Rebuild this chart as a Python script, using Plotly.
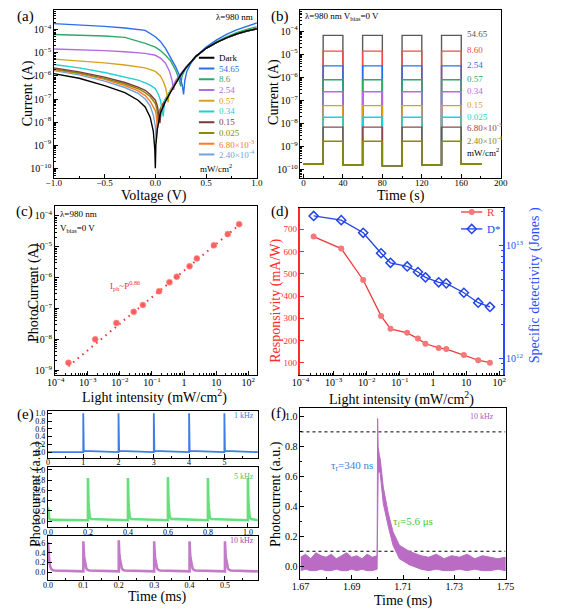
import plotly.graph_objects as go

# The page body has an 8px margin, so the figure is offset by 8px; all positions
# below are given in window (screen) pixels and converted.
SW, SH = 561, 612
OFF = 8
W, H = SW - OFF, SH - OFF
FONT = "Liberation Serif"

# ======================= DATA =======================
# (a) I-V curves (V in volts, I in amperes)
a_fwd_V = [0.4, 0.5, 0.6, 0.7, 0.8, 0.9, 1.0]
a_fwd_I = [7.1e-6, 1.58e-5, 2.8e-5, 4.5e-5, 6.6e-5, 8.9e-5, 1.12e-4]

a_dark_V = [-1, -0.75, -0.5, -0.3, -0.17, -0.1, -0.05, -0.02, -0.005, 0, 0.005, 0.02, 0.05, 0.1, 0.15, 0.2, 0.25, 0.3, 0.35]
a_dark_I = [1.26e-6, 7.94e-7, 3.8e-7, 1.9e-7, 8.9e-8, 4.5e-8, 1.6e-8, 4.0e-9, 6.3e-10, 1.0e-10, 1.0e-9, 5.0e-9, 2.5e-8, 7.9e-8, 2.0e-7, 5.0e-7, 1.12e-6, 2.24e-6, 4.0e-6]

a_5465_V = [-1, -0.75, -0.5, -0.3, -0.2, -0.1, 0, 0.05, 0.1, 0.15, 0.2, 0.24, 0.265, 0.278, 0.29, 0.31, 0.35, 0.4, 0.5, 0.6, 0.7, 0.8, 0.9, 1.0]
a_5465_I = [1.86e-4, 1.66e-4, 1.41e-4, 1.2e-4, 1.1e-4, 9.5e-5, 5.0e-5, 3.16e-5, 1.58e-5, 6.3e-6, 2.5e-6, 1.0e-6, 4.0e-7, 1.58e-7, 6.3e-7, 1.58e-6, 3.55e-6, 7.1e-6, 1.78e-5, 3.55e-5, 6.3e-5, 1.0e-4, 1.41e-4, 2.0e-4]

a_86_V = [-1, -0.75, -0.5, -0.3, -0.1, 0, 0.05, 0.1, 0.15, 0.2, 0.23, 0.25, 0.262, 0.28, 0.3, 0.35, 0.4, 0.5, 0.6, 0.7, 0.8, 0.9, 1.0]
a_86_I = [6.3e-5, 5.9e-5, 5.4e-5, 4.7e-5, 2.6e-5, 1.78e-5, 1.26e-5, 7.9e-6, 4.5e-6, 1.78e-6, 7.9e-7, 3.55e-7, 1.0e-6, 1.41e-6, 2.1e-6, 4.0e-6, 7.1e-6, 1.6e-5, 3.0e-5, 4.9e-5, 7.6e-5, 1.05e-4, 1.35e-4]

a_254_V = [-1, -0.75, -0.5, -0.3, -0.1, 0, 0.05, 0.1, 0.14, 0.165, 0.18, 0.19, 0.2, 0.25, 0.3, 0.35]
a_254_I = [1.48e-5, 1.38e-5, 1.26e-5, 1.12e-5, 9.5e-6, 7.9e-6, 6.0e-6, 3.55e-6, 1.58e-6, 6.3e-7, 2.5e-7, 5.0e-7, 6.3e-7, 1.26e-6, 2.4e-6, 4.0e-6]

a_057_V = [-1, -0.75, -0.5, -0.3, -0.1, 0, 0.05, 0.08, 0.1, 0.115, 0.125, 0.135, 0.15, 0.2, 0.25, 0.3, 0.35]
a_057_I = [5.4e-6, 4.5e-6, 3.7e-6, 3.0e-6, 2.24e-6, 1.58e-6, 1.0e-6, 5.6e-7, 3.16e-7, 1.58e-7, 7.1e-8, 1.58e-7, 2.5e-7, 6.0e-7, 1.2e-6, 2.3e-6, 4.0e-6]

a_034_V = [-1, -0.75, -0.5, -0.3, -0.17, -0.1, -0.05, 0, 0.03, 0.05, 0.065, 0.078, 0.09, 0.12, 0.15, 0.2, 0.25, 0.3, 0.35]
a_034_I = [3.16e-6, 2.24e-6, 1.41e-6, 9.3e-7, 6.6e-7, 5.0e-7, 4.0e-7, 2.8e-7, 1.58e-7, 8.9e-8, 4.5e-8, 1.78e-8, 7.9e-8, 1.41e-7, 2.5e-7, 5.6e-7, 1.17e-6, 2.24e-6, 4.0e-6]

a_015_V = [-1, -0.75, -0.5, -0.3, -0.17, -0.1, -0.05, 0, 0.02, 0.035, 0.045, 0.06, 0.1, 0.15, 0.2, 0.25, 0.3, 0.35]
a_015_I = [2.24e-6, 1.5e-6, 8.9e-7, 5.2e-7, 3.3e-7, 2.4e-7, 1.58e-7, 8.9e-8, 5.0e-8, 2.24e-8, 8.9e-9, 4.0e-8, 1.0e-7, 2.4e-7, 5.4e-7, 1.12e-6, 2.24e-6, 4.0e-6]

a_0025_V = [-1, -0.75, -0.5, -0.3, -0.17, -0.1, -0.05, 0, 0.015, 0.03, 0.04, 0.06, 0.1, 0.15, 0.2, 0.25, 0.3, 0.35]
a_0025_I = [2.0e-6, 1.35e-6, 7.9e-7, 4.5e-7, 2.8e-7, 1.9e-7, 1.26e-7, 6.3e-8, 3.55e-8, 1.12e-8, 3.16e-8, 5.0e-8, 1.0e-7, 2.24e-7, 5.2e-7, 1.12e-6, 2.24e-6, 4.0e-6]

a_68e3_V = [-1, -0.75, -0.5, -0.3, -0.17, -0.1, -0.05, 0, 0.01, 0.02, 0.03, 0.05, 0.1, 0.15, 0.2, 0.25, 0.3, 0.35]
a_68e3_I = [1.9e-6, 1.26e-6, 7.1e-7, 3.8e-7, 2.24e-7, 1.41e-7, 7.9e-8, 3.16e-8, 1.78e-8, 5.0e-9, 1.78e-8, 3.55e-8, 8.9e-8, 2.1e-7, 5.0e-7, 1.12e-6, 2.24e-6, 4.0e-6]

a_24e4_V = [-1, -0.75, -0.5, -0.3, -0.17, -0.1, -0.05, -0.02, 0, 0.008, 0.015, 0.03, 0.06, 0.1, 0.15, 0.2, 0.25, 0.3, 0.35]
a_24e4_I = [1.7e-6, 1.12e-6, 6.0e-7, 3.16e-7, 1.78e-7, 1.0e-7, 5.0e-8, 2.0e-8, 6.3e-9, 1.26e-9, 6.3e-9, 1.78e-8, 4.5e-8, 8.9e-8, 2.0e-7, 5.0e-7, 1.12e-6, 2.24e-6, 4.0e-6]

a_labels = ["Dark", "54.65", "8.6", "2.54", "0.57", "0.34", "0.15", "0.025",
            "6.80×10<sup>-3</sup>", "2.40×10<sup>-4</sup>"]
a_colors = ["#000000", "#2a6fe6", "#2fa868", "#b36be3", "#d8a21a", "#1fd0d4",
            "#7a3a3a", "#8a8a05", "#ff7a22", "#6fa3dc"]

# (b) on/off switching
b_labels = ["54.65", "8.60", "2.54", "0.57", "0.34", "0.15", "0.025",
            "6.80×10<sup>-3</sup>", "2.40×10<sup>-4</sup>"]
b_colors = ["#5a5a5a", "#f24b4b", "#2a6fe6", "#2fa868", "#b36be3", "#d8a21a",
            "#1fd0d4", "#8a4a4a", "#8a8a05"]
b_on_level = [6.5e-5, 1.35e-5, 3.1e-6, 7.8e-7, 2.35e-7, 5.9e-8, 1.86e-8, 6.9e-9, 1.7e-9]
b_off_level = [1.7e-10, 1.6e-10, 1.45e-10, 1.6e-10, 1.7e-10]
b_on_times = [20, 60, 100, 140]
b_off_times = [40, 80, 120, 160]
b_t_end = 181

# (c) photocurrent vs intensity
c_P = [2.5e-4, 1.7e-3, 7.8e-3, 0.027, 0.052, 0.166, 0.35, 0.59, 1.48, 2.5, 8.5, 23, 52]
c_I = [1.74e-9, 1.0e-8, 3.4e-8, 7.8e-8, 1.29e-7, 3.6e-7, 7.1e-7, 1.07e-6, 2.34e-6, 4.2e-6, 1.12e-5, 2.57e-5, 5.4e-5]
c_fit_P = [2.5e-4, 55]
c_fit_I = [1.35e-9, 5.3e-5]

# (d) responsivity / detectivity
d_R = [667, 613, 472, 311, 253, 235, 209, 186, 167, 162, 135, 112, 101]
d_D = [1.82e13, 1.67e13, 1.29e13, 8.5e12, 7.0e12, 6.5e12, 5.8e12, 5.2e12, 4.7e12, 4.6e12, 3.8e12, 3.1e12, 2.85e12]

# (e) transient pulses at three frequencies
pulse_dt = [0, 0.0011, 0.0023, 0.0042, 0.0061, 0.0086, 0.0124, 0.017]
pulse_frac = [1.0, 0.67, 0.47, 0.31, 0.18, 0.09, 0.05, 0.03]
e1_peaks = [1, 2, 3, 4, 5]
e1_heights = [1.0, 1.0, 1.0, 1.0, 1.0]
e1_base = 0.0
e2_peaks = [0.0, 0.2, 0.4, 0.6, 0.8, 1.0]
e2_heights = [0.25, 0.82, 0.82, 0.84, 0.82, 0.82]
e2_base = 0.02
e3_peaks = [0.0, 0.1, 0.2, 0.3, 0.4, 0.5]
e3_heights = [0.6, 0.62, 0.64, 0.62, 0.62, 0.62]
e3_base = 0.02

# (f) single pulse envelope (upper / lower edge of the noisy trace)
f_t = [1.670, 1.672, 1.674, 1.676, 1.678, 1.680, 1.682, 1.684, 1.686, 1.688, 1.690, 1.692, 1.694, 1.696, 1.698, 1.6999,
       1.7001, 1.7003, 1.7008, 1.7011, 1.7023, 1.7042, 1.7061, 1.7086, 1.7124, 1.717,
       1.720, 1.723, 1.726, 1.729, 1.732, 1.735, 1.738, 1.741, 1.744, 1.747, 1.750]
f_hi = [0.06, 0.08, 0.05, 0.09, 0.07, 0.06, 0.08, 0.05, 0.07, 0.09, 0.06, 0.07, 0.05, 0.08, 0.06, 0.07,
        0.99, 0.80, 0.74, 0.72, 0.53, 0.36, 0.23, 0.14, 0.10, 0.07,
        0.06, 0.08, 0.05, 0.07, 0.06, 0.08, 0.05, 0.07, 0.06, 0.05, 0.06]
f_lo = [-0.03, -0.02, -0.03, -0.03, -0.02, -0.03, -0.03, -0.02, -0.03, -0.03, -0.02, -0.03, -0.02, -0.03, -0.03, -0.02,
        0.00, 0.62, 0.64, 0.62, 0.42, 0.27, 0.14, 0.05, 0.01, -0.02,
        -0.03, -0.02, -0.03, -0.03, -0.02, -0.03, -0.02, -0.03, -0.03, -0.02, -0.03]
f_thresh = [0.9, 0.1]

# ======================= HELPERS =======================
def px(x):
    return (x - OFF) / W


def py(y):
    return 1 - (y - OFF) / H


fig = go.Figure()


def base_axis(**kw):
    d = dict(showline=True, linecolor="black", linewidth=1, mirror=True,
             ticks="inside", ticklen=4, tickwidth=1, tickcolor="black",
             showgrid=False, zeroline=False,
             tickfont=dict(family=FONT, size=9, color="black"))
    d.update(kw)
    return d


# ======================= (a) =======================
a_V = [a_dark_V, a_5465_V, a_86_V, a_254_V, a_057_V, a_034_V, a_015_V, a_0025_V, a_68e3_V, a_24e4_V]
a_I = [a_dark_I, a_5465_I, a_86_I, a_254_I, a_057_I, a_034_I, a_015_I, a_0025_I, a_68e3_I, a_24e4_I]
order = [9, 8, 7, 6, 5, 4, 3, 2, 1, 0]
for k in order:
    V = list(a_V[k])
    I = list(a_I[k])
    if V[-1] < 0.4:
        V = V + a_fwd_V
        I = I + a_fwd_I
    fig.add_trace(go.Scatter(x=V, y=I, mode="lines", line=dict(color=a_colors[k], width=1.4),
                             xaxis="x", yaxis="y", showlegend=False))

# ======================= (b) =======================
for k in range(len(b_on_level)):
    t = [0]
    v = [b_off_level[0]]
    for j, (ton, toff) in enumerate(zip(b_on_times, b_off_times)):
        t += [ton, ton, toff, toff]
        v += [b_off_level[j], b_on_level[k], b_on_level[k], b_off_level[j + 1]]
    t.append(b_t_end)
    v.append(b_off_level[-1])
    fig.add_trace(go.Scatter(x=t, y=v, mode="lines", line=dict(color=b_colors[k], width=1.4),
                             xaxis="x2", yaxis="y2", showlegend=False))

# ======================= (c) =======================
fig.add_trace(go.Scatter(x=c_fit_P, y=c_fit_I, mode="lines",
                         line=dict(color="#f03030", width=2, dash="1.5px,4.5px"),
                         xaxis="x3", yaxis="y3", showlegend=False))
fig.add_trace(go.Scatter(x=c_P, y=c_I, mode="markers",
                         marker=dict(color="rgba(255,80,80,0.9)", size=6,
                                     line=dict(color="rgba(255,150,150,0.6)", width=1)),
                         xaxis="x3", yaxis="y3", showlegend=False))

# ======================= (d) =======================
fig.add_trace(go.Scatter(x=c_P, y=d_R, mode="lines+markers",
                         line=dict(color="#f03a3a", width=1.3),
                         marker=dict(symbol="circle", size=6, color="#f07a7a"),
                         xaxis="x4", yaxis="y4", showlegend=False))
fig.add_trace(go.Scatter(x=c_P, y=d_D, mode="lines+markers",
                         line=dict(color="#2244e8", width=1.3),
                         marker=dict(symbol="diamond-open", size=7, color="#2244e8", line=dict(width=1.5)),
                         xaxis="x4", yaxis="y5", showlegend=False))

# ======================= (e) =======================
def pulse_train(t_end, base, peaks, heights):
    t, v = [], []
    for p, h in zip(peaks, heights):
        if p > 0:
            if not t:
                t.append(0.0)
                v.append(base)
            t.append(p)
            v.append(base)
        for dt, fr in zip(pulse_dt, pulse_frac):
            t.append(p + dt)
            v.append(base + h * fr)
    t.append(t_end)
    v.append(base)
    return t, v


t1, v1 = pulse_train(5.95, e1_base, e1_peaks, e1_heights)
fig.add_trace(go.Scatter(x=t1, y=v1, mode="lines", line=dict(color="#3d7fe6", width=1.8),
                         xaxis="x5", yaxis="y6", showlegend=False))
t2, v2 = pulse_train(1.05, e2_base, e2_peaks, e2_heights)
fig.add_trace(go.Scatter(x=t2, y=v2, mode="lines", line=dict(color="#66e07e", width=2.6),
                         xaxis="x6", yaxis="y7", showlegend=False))
t3, v3 = pulse_train(0.593, e3_base, e3_peaks, e3_heights)
fig.add_trace(go.Scatter(x=t3, y=v3, mode="lines", line=dict(color="#c37ac9", width=2.6),
                         xaxis="x7", yaxis="y8", showlegend=False))

# ======================= (f) =======================
for th in f_thresh:
    fig.add_trace(go.Scatter(x=[1.67, 1.75], y=[th, th], mode="lines",
                             line=dict(color="black", width=1, dash="dot"),
                             xaxis="x8", yaxis="y9", showlegend=False))
fig.add_trace(go.Scatter(x=f_t + f_t[::-1], y=f_hi + f_lo[::-1], mode="lines", fill="toself",
                         fillcolor="#ba6cc4", line=dict(color="#ba6cc4", width=1),
                         xaxis="x8", yaxis="y9", showlegend=False))

# ======================= legend keys (screen-pixel overlay axis) =======================
for i, c in enumerate(a_colors):
    yy = 56 + 10.8 * i
    fig.add_trace(go.Scatter(x=[196, 212], y=[yy, yy], mode="lines", line=dict(color=c, width=2),
                             xaxis="x9", yaxis="y10", showlegend=False))
fig.add_trace(go.Scatter(x=[467, 489], y=[211, 211], mode="lines",
                         line=dict(color="#f03a3a", width=1.3),
                         xaxis="x9", yaxis="y10", showlegend=False))
fig.add_trace(go.Scatter(x=[478], y=[211], mode="markers",
                         marker=dict(symbol="circle", size=6, color="#f07a7a"),
                         xaxis="x9", yaxis="y10", showlegend=False))
fig.add_trace(go.Scatter(x=[467, 489], y=[228, 228], mode="lines",
                         line=dict(color="#2244e8", width=1.3),
                         xaxis="x9", yaxis="y10", showlegend=False))
fig.add_trace(go.Scatter(x=[478], y=[228], mode="markers",
                         marker=dict(symbol="diamond-open", size=7, color="#2244e8", line=dict(width=1.5)),
                         xaxis="x9", yaxis="y10", showlegend=False))

# ======================= annotations =======================
ann = []


def T(x, y, text, size=9, color="black", xanchor="left", angle=0):
    ann.append(dict(x=x, y=y, xref="x9", yref="y10", text=text, showarrow=False,
                    xanchor=xanchor, yanchor="middle", textangle=angle,
                    font=dict(family=FONT, size=size, color=color)))


# panel letters
for lab, (x, y) in zip(["(a)", "(b)", "(c)", "(d)", "(e)", "(f)"],
                       [(17, 15), (280, 15), (16, 210), (280, 210), (17, 415), (278, 414)]):
    T(x, y, lab, size=15, xanchor="center")

# (a)
T(150, 195, "Voltage (V)", size=14, xanchor="center")
T(19, 92, "Current (A)", size=14, xanchor="center", angle=-90)
T(254, 15, "λ=980 nm", size=9, xanchor="right")
for i, (lab, c) in enumerate(zip(a_labels, a_colors)):
    T(215, 56 + 10.8 * i, lab, size=9, color=c)
T(195, 167, "mW/cm<sup>2</sup>", size=9)

# (b)
T(405, 195, "Time (s)", size=14, xanchor="center")
T(273, 90, "Current (A)", size=14, xanchor="center", angle=-90)
T(304, 15, "λ=980 nm V<sub>bias</sub>=0 V", size=9)
b_lab_y = [32.3, 48.3, 63.3, 77.7, 89.7, 103, 115.3, 126, 139]
for lab, c, yy in zip(b_labels, b_colors, b_lab_y):
    T(471, yy, lab, size=9, color=c)
T(471, 151, "mW/cm<sup>2</sup>", size=9)

# (c)
T(150, 396, "Light intensity (mW/cm<sup>2</sup>)", size=14, xanchor="center")
T(25, 292, "PhotoCurrent (A)", size=14, xanchor="center", angle=-90)
T(50, 213, "λ=980 nm", size=9)
T(50, 228, "V<sub>bias</sub>=0 V", size=9)
T(102, 285, "I<sub>ph</sub>~P<sup>0.86</sup>", size=9, color="#f03030")

# (d)
T(405, 398, "Light intensity (mW/cm<sup>2</sup>)", size=14, xanchor="center")
T(275, 300, "Responsivity (mA/W)", size=14, xanchor="center", angle=-90, color="#ff2a2a")
T(543, 285, "Specific detectivity (Jones )", size=14, xanchor="center", angle=-90, color="#2a4cff")
T(492, 211, "R", size=11, color="#f03a3a")
T(492, 228, "D*", size=11, color="#2244e8")

# (e)
T(153, 598, "Time (ms)", size=14, xanchor="center")
T(27, 494, "Photocurrent (a.u.)", size=14, xanchor="center", angle=-90)
T(255, 416, "1 kHz", size=8, color="#3d7fe6", xanchor="right")
T(255, 477, "5 kHz", size=8, color="#4cc864", xanchor="right")
T(255, 541, "10 kHz", size=8, color="#a04aa8", xanchor="right")

# (f)
T(407, 602, "Time (ms)", size=14, xanchor="center")
T(275, 494, "Photocurrent (a.u.)", size=14, xanchor="center", angle=-90)
T(378, 466, "τ<sub>r</sub>=340 ns", size=11, color="#3a7fe0", xanchor="right")
T(395, 523, "τ<sub>f</sub>=5.6 μs", size=11, color="#3ec83e")
T(503, 417, "10 kHz", size=8, color="#b05ab8", xanchor="right")

# ======================= layout =======================
red = "#ff2a2a"
blue = "#2a4cff"
LOGF = dict(family=FONT, size=8, color="black")
layout = dict(
    width=W, height=H, margin=dict(l=0, r=0, t=0, b=0),
    font=dict(family=FONT, size=9, color="black"),
    plot_bgcolor="rgba(0,0,0,0)", paper_bgcolor="white",
    annotations=ann,
    # (a)
    xaxis=base_axis(domain=[px(46), px(256)], range=[-1, 1], dtick=0.5, tickformat=".1f", anchor="y",
                    ticklabelstandoff=-4,
                    minor=dict(ticks="inside", ticklen=2, dtick=0.25, tickcolor="black")),
    yaxis=base_axis(domain=[py(177), py(8)], type="log", range=[-10.43, -3.14], dtick=1,
                    exponentformat="power", anchor="x", tickfont=LOGF,
                    minor=dict(ticks="inside", ticklen=2, tickcolor="black")),
    # (b)
    xaxis2=base_axis(domain=[px(301), px(508)], range=[-3, 200], dtick=40, anchor="y2",
                     ticklabelstandoff=-4,
                     minor=dict(ticks="inside", ticklen=2, dtick=20, tickcolor="black")),
    yaxis2=base_axis(domain=[py(177), py(8)], type="log", range=[-10.37, -3.09], dtick=1,
                     exponentformat="power", anchor="x2", tickfont=LOGF,
                     minor=dict(ticks="inside", ticklen=2, tickcolor="black")),
    # (c)
    xaxis3=base_axis(domain=[px(47), px(256)], type="log", range=[-4.03, 2.27], dtick=1,
                     exponentformat="power", anchor="y3", tickfont=LOGF, ticklabelstandoff=-2,
                     minor=dict(ticks="inside", ticklen=2, tickcolor="black")),
    yaxis3=base_axis(domain=[py(375), py(205)], type="log", range=[-9.16, -3.68], dtick=1,
                     exponentformat="power", anchor="x3", tickfont=LOGF,
                     minor=dict(ticks="inside", ticklen=2, tickcolor="black")),
    # (d)
    xaxis4=base_axis(domain=[px(301), px(510)], type="log", range=[-4.0, 2.1], dtick=1,
                     exponentformat="power", anchor="y4", tickfont=LOGF, ticklabelstandoff=-2,
                     minor=dict(ticks="inside", ticklen=2, tickcolor="black")),
    yaxis4=base_axis(domain=[py(375), py(207)], range=[45, 795], dtick=100, tick0=100, anchor="x4",
                     mirror=False, linecolor=red, tickcolor=red, linewidth=1.5,
                     tickfont=dict(family=FONT, size=9, color=red)),
    yaxis5=base_axis(domain=[py(375), py(207)], type="log", range=[11.85, 13.33], dtick=1,
                     exponentformat="power", anchor="x4", overlaying="y4", side="right",
                     mirror=False, linecolor=blue, tickcolor=blue, linewidth=1.5,
                     tickfont=dict(family=FONT, size=8, color=blue),
                     minor=dict(ticks="inside", ticklen=2, tickcolor=blue)),
    # (e)
    xaxis5=base_axis(domain=[px(40), px(257)], range=[0, 5.95], dtick=1, anchor="y6",
                     tickfont=dict(family=FONT, size=8, color="black"), ticklabelstandoff=-3,
                     minor=dict(ticks="inside", ticklen=2, dtick=0.5, tickcolor="black")),
    yaxis6=base_axis(domain=[py(458), py(411)], range=[-0.145, 1.06], dtick=0.2, tickformat=".1f", anchor="x5",
                     tickfont=dict(family=FONT, size=8, color="black")),
    xaxis6=base_axis(domain=[px(40), px(257)], range=[0, 1.05], dtick=0.2, tickformat=".1f", anchor="y7",
                     tickfont=dict(family=FONT, size=8, color="black"), ticklabelstandoff=-3,
                     minor=dict(ticks="inside", ticklen=2, dtick=0.1, tickcolor="black")),
    yaxis7=base_axis(domain=[py(528), py(467)], range=[-0.12, 1.06], dtick=0.2, tickformat=".1f", anchor="x6",
                     tickfont=dict(family=FONT, size=8, color="black")),
    xaxis7=base_axis(domain=[px(40), px(257)], range=[0, 0.593], dtick=0.1, tickformat=".1f", anchor="y8",
                     tickfont=dict(family=FONT, size=8, color="black"), ticklabelstandoff=-3,
                     minor=dict(ticks="inside", ticklen=2, dtick=0.05, tickcolor="black")),
    yaxis8=base_axis(domain=[py(581), py(537)], range=[-0.16, 0.74], dtick=0.2, tickformat=".1f", anchor="x7",
                     tickfont=dict(family=FONT, size=8, color="black")),
    # (f)
    xaxis8=base_axis(domain=[px(301), px(513)], range=[1.67, 1.75], dtick=0.02, tick0=1.67, tickformat=".2f",
                     anchor="y9", tickfont=dict(family=FONT, size=10, color="black"), ticklabelstandoff=-2,
                     minor=dict(ticks="inside", ticklen=2, dtick=0.01, tickcolor="black")),
    yaxis9=base_axis(domain=[py(580), py(408)], range=[-0.087, 1.06], dtick=0.2, tickformat=".1f", anchor="x8",
                     tickfont=dict(family=FONT, size=10, color="black"),
                     minor=dict(ticks="inside", ticklen=2, dtick=0.1, tickcolor="black")),
    # screen-pixel overlay for legend keys and labels
    xaxis9=dict(domain=[0, 1], range=[OFF, OFF + W], visible=False, anchor="y10", fixedrange=True),
    yaxis10=dict(domain=[0, 1], range=[OFF + H, OFF], visible=False, anchor="x9", fixedrange=True),
)
fig.update_layout(**layout)
fig.write_html("out.html")
